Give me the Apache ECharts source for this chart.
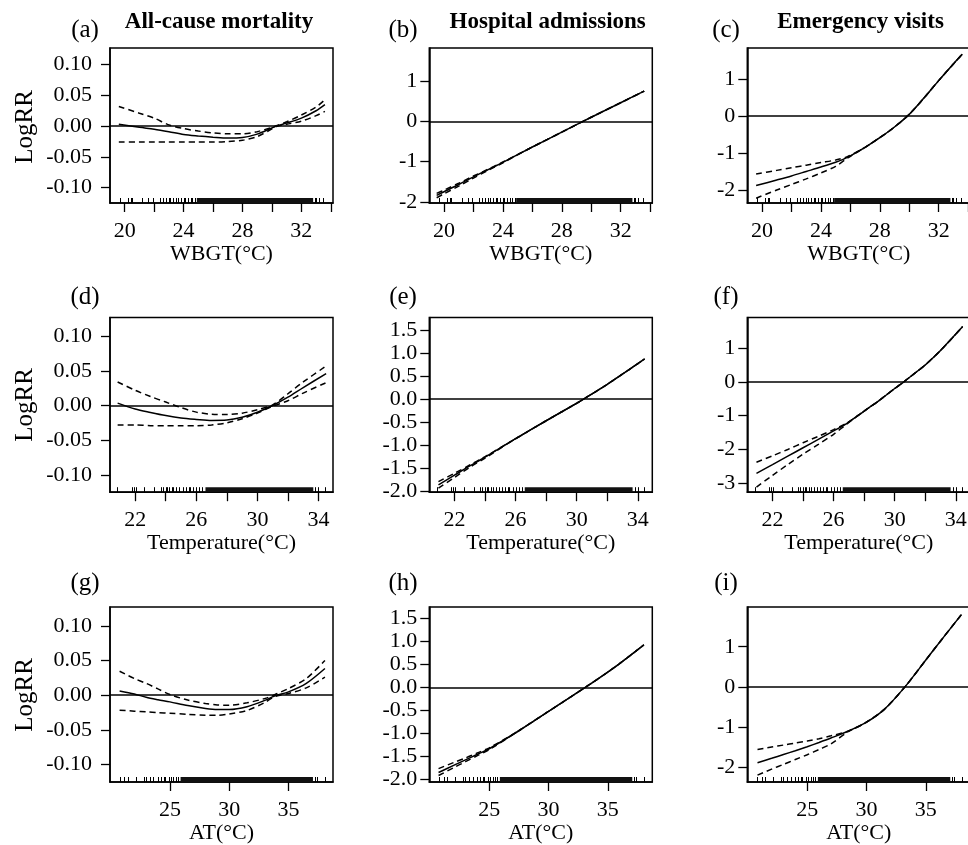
<!DOCTYPE html>
<html><head><meta charset="utf-8">
<script src="https://cdn.jsdelivr.net/npm/echarts@6/dist/echarts.min.js"></script>
<style>html,body{margin:0;padding:0;overflow:hidden;background:#fff}#c{width:980px;height:845px}</style>
</head><body><div id="c"></div><script>
// ---------- DATA ----------
const columnTitles = ['All-cause mortality', 'Hospital admissions', 'Emergency visits'];
const panelLetters = ['(a)','(b)','(c)','(d)','(e)','(f)','(g)','(h)','(i)'];
const rowXNames = ['WBGT(°C)', 'Temperature(°C)', 'AT(°C)'];
const yName = 'LogRR';

// x tick marks / labels per row
const wbgtTicks = [20,22,24,26,28,30,32,34];
const wbgtLabels = [20,24,28,32];
const tempTicks = [22,24,26,28,30,32,34];
const tempLabels = [22,26,30,34];
const atTicks = [25,30,35];
const atLabels = [25,30,35];

// y tick labels
const mortTicks = [-0.10,-0.05,0,0.05,0.10];
const yTicksB = [-2,-1,0,1];
const yTicksC = [-2,-1,0,1];
const yTicksE = [-2,-1.5,-1,-0.5,0,0.5,1,1.5];
const yTicksF = [-3,-2,-1,0,1];
const yTicksH = [-2,-1.5,-1,-0.5,0,0.5,1,1.5];
const yTicksI = [-2,-1,0,1];

// (a) WBGT - mortality
const xA   = [19.6, 21, 22, 23, 24, 25, 26, 27, 28, 29, 30, 30.3, 31, 32, 33, 33.6];
const fitA = [0.003, -0.002, -0.005, -0.009, -0.0135, -0.016, -0.018, -0.0195, -0.0185, -0.013, -0.003, 0, 0.005, 0.013, 0.025, 0.035];
const upA  = [0.032, 0.021, 0.013, 0.002, -0.004, -0.008, -0.011, -0.0125, -0.0125, -0.009, -0.002, 0.0005, 0.007, 0.018, 0.031, 0.043];
const loA  = [-0.026, -0.026, -0.026, -0.026, -0.026, -0.026, -0.026, -0.025, -0.023, -0.017, -0.0045, -0.0005, 0.003, 0.008, 0.017, 0.024];
// (b) WBGT - hospital admissions
const xB   = [19.5, 20, 21, 22, 23, 24, 26, 28, 30, 32, 33.6];
const fitB = [-1.84, -1.75, -1.57, -1.38, -1.20, -1.02, -0.64, -0.27, 0.10, 0.46, 0.75];
const upB  = [-1.79, -1.71, -1.54, -1.36, -1.19, -1.01, -0.64, -0.27, 0.10, 0.46, 0.75];
const loB  = [-1.90, -1.80, -1.61, -1.41, -1.22, -1.03, -0.64, -0.27, 0.10, 0.46, 0.75];
// (c) WBGT - emergency visits
const xC   = [19.6, 21, 22, 23, 24, 25, 25.8, 27, 28, 29, 30, 31, 32, 33, 33.6];
const fitC = [-1.88, -1.73, -1.62, -1.50, -1.38, -1.25, -1.12, -0.85, -0.59, -0.30, 0.04, 0.48, 0.95, 1.40, 1.66];
const upC  = [-1.57, -1.47, -1.40, -1.33, -1.26, -1.19, -1.10, -0.85, -0.59, -0.30, 0.04, 0.48, 0.95, 1.40, 1.66];
const loC  = [-2.22, -2.00, -1.85, -1.70, -1.54, -1.36, -1.14, -0.85, -0.59, -0.30, 0.04, 0.48, 0.95, 1.40, 1.66];
// (d) Temperature - mortality
const xD   = [20.85, 22, 23, 24, 25, 26, 27, 28, 29, 30, 31, 32, 33, 34.5];
const fitD = [0.0035, -0.005, -0.010, -0.0145, -0.018, -0.020, -0.0215, -0.021, -0.017, -0.0097, 0, 0.012, 0.026, 0.046];
const upD  = [0.034, 0.022, 0.013, 0.005, -0.003, -0.0095, -0.0125, -0.013, -0.011, -0.006, 0.001, 0.017, 0.034, 0.057];
const loD  = [-0.028, -0.028, -0.029, -0.029, -0.029, -0.029, -0.028, -0.025, -0.019, -0.011, -0.001, 0.007, 0.018, 0.033];
// (e) Temperature - hospital admissions
const xE   = [20.95, 22, 23, 24, 26, 28, 30, 30.45, 32, 34.45];
const fitE = [-1.86, -1.65, -1.45, -1.26, -0.86, -0.47, -0.09, 0, 0.32, 0.87];
const upE  = [-1.79, -1.61, -1.43, -1.25, -0.86, -0.47, -0.09, 0, 0.32, 0.87];
const loE  = [-1.93, -1.70, -1.48, -1.28, -0.86, -0.47, -0.09, 0, 0.32, 0.87];
// (f) Temperature - emergency visits
const xF   = [20.95, 22, 23, 24, 25, 26, 26.85, 28, 29, 30, 30.6, 31.5, 32, 33, 34.45];
const fitF = [-2.72, -2.46, -2.21, -1.96, -1.71, -1.46, -1.24, -0.87, -0.55, -0.20, 0, 0.32, 0.50, 0.93, 1.64];
const upF  = [-2.39, -2.20, -2.01, -1.81, -1.62, -1.42, -1.23, -0.87, -0.55, -0.20, 0, 0.32, 0.50, 0.93, 1.64];
const loF  = [-3.13, -2.78, -2.46, -2.15, -1.86, -1.56, -1.26, -0.87, -0.55, -0.20, 0, 0.32, 0.50, 0.93, 1.64];
// (g) AT - mortality
const xG   = [20.76, 22, 23, 24, 25, 26.5, 28, 29, 30, 31.5, 33, 33.7, 34, 35, 36.5, 38.07];
const fitG = [0.0062, 0.0018, -0.003, -0.0065, -0.0096, -0.015, -0.019, -0.0205, -0.0205, -0.0165, -0.0075, -0.002, 0, 0.0048, 0.017, 0.0384];
const upG  = [0.0345, 0.024, 0.017, 0.009, 0.001, -0.007, -0.012, -0.014, -0.0145, -0.011, -0.0048, -0.0005, 0.002, 0.0096, 0.024, 0.050];
const loG  = [-0.0216, -0.023, -0.024, -0.025, -0.026, -0.0275, -0.0288, -0.029, -0.027, -0.022, -0.0105, -0.003, -0.0013, 0.0024, 0.0106, 0.026];
// (h) AT - hospital admissions
const xH   = [20.73, 22, 23, 24, 25, 27.5, 30, 33.1, 35.5, 38.04];
const fitH = [-1.845, -1.69, -1.57, -1.45, -1.33, -0.94, -0.52, 0, 0.42, 0.92];
const upH  = [-1.76, -1.63, -1.53, -1.42, -1.31, -0.94, -0.52, 0, 0.42, 0.92];
const loH  = [-1.91, -1.74, -1.61, -1.48, -1.35, -0.94, -0.52, 0, 0.42, 0.92];
// (i) AT - emergency visits
const xI   = [20.81, 22, 23, 24, 25, 26, 27, 28.49, 30, 31.5, 33.24, 35, 36.5, 38.0];
const fitI = [-1.89, -1.78, -1.685, -1.59, -1.49, -1.385, -1.275, -1.10, -0.88, -0.56, 0, 0.67, 1.24, 1.80];
const upI  = [-1.56, -1.50, -1.45, -1.40, -1.35, -1.29, -1.22, -1.10, -0.88, -0.56, 0, 0.67, 1.24, 1.80];
const loI  = [-2.20, -2.05, -1.93, -1.81, -1.69, -1.56, -1.42, -1.11, -0.88, -0.56, 0, 0.67, 1.24, 1.80];

// rug (observed exposure values) per row
const rugWbgt = [19.66, 20.2, 20.4, 20.5, 21.2, 21.6, 21.9, 22.4, 22.6, 22.8, 23.0, 23.1, 23.3, 23.5, 23.6, 23.8, 24.0, 24.1, 24.3, 24.5, 24.6, 24.8, 32.9, 33.0, 33.2, 33.5];
const rugWbgtDense = [24.9, 32.8];
const rugTemp = [20.84, 21.8, 21.9, 22.05, 22.6, 23.25, 23.7, 23.8, 24.0, 24.1, 24.2, 24.4, 24.5, 24.7, 24.9, 25.1, 25.3, 25.5, 25.6, 25.8, 26.0, 26.2, 26.4, 33.8, 34.0, 34.4];
const rugTempDense = [26.6, 33.66];
const rugAt = [20.76, 21.17, 21.46, 22.15, 22.82, 23.0, 23.3, 23.6, 24.0, 24.25, 24.5, 24.6, 24.9, 25.1, 25.3, 25.5, 25.67, 37.2, 37.4, 38.07];
const rugAtDense = [25.9, 37.06];

// ---------- LAYOUT ----------
const FONT = '"Liberation Serif","Times New Roman",serif';
const gridLefts = [110, 429.3, 747.3];
const gridTops = [48, 317.5, 607];
const gridHeights = [155, 174.7, 175];
const gridW = 223;
const xRanges = [[19.0, 34.15], [20.35, 34.95], [19.95, 38.75]];
const yRanges = [[-0.125,0.127],[-2.03,1.82],[-2.35,1.83],[-0.125,0.127],[-2.02,1.77],[-3.28,1.91],[-0.125,0.127],[-2.05,1.74],[-2.37,1.99]];

const xTicksRows = [wbgtTicks, tempTicks, atTicks];
const xLabelsRows = [wbgtLabels, tempLabels, atLabels];
const rugRows = [rugWbgt, rugTemp, rugAt];
const rugDenseRows = [rugWbgtDense, rugTempDense, rugAtDense];
const yTickSets = [mortTicks, yTicksB, yTicksC, mortTicks, yTicksE, yTicksF, mortTicks, yTicksH, yTicksI];
const yFmt = [2,0,0,2,1,0,2,1,0];
const curves = [
  [xA,fitA,upA,loA],[xB,fitB,upB,loB],[xC,fitC,upC,loC],
  [xD,fitD,upD,loD],[xE,fitE,upE,loE],[xF,fitF,upF,loF],
  [xG,fitG,upG,loG],[xH,fitH,upH,loH],[xI,fitI,upI,loI]
];

const grid = [], xAxis = [], yAxis = [], series = [], graphic = [];
for (let i = 0; i < 9; i++) {
  const r = Math.floor(i/3), c = i % 3;
  grid.push({left: gridLefts[c], top: gridTops[r], width: gridW, height: gridHeights[r],
    show: true, borderColor: '#000', borderWidth: 1.5, backgroundColor: 'transparent'});
  xAxis.push({type:'value', gridIndex:i, min:xRanges[r][0], max:xRanges[r][1],
    axisLine:{show:true, onZero:false, lineStyle:{color:'#000', width:1.5}},
    axisTick:{show:true, inside:false, length:9, customValues:xTicksRows[r], lineStyle:{color:'#000', width:1.3}},
    axisLabel:{show:true, customValues:xLabelsRows[r], color:'#000', fontSize:22, fontFamily:FONT, margin:17,
      formatter: v => String(v)},
    splitLine:{show:false},
    name: rowXNames[r], nameLocation:'middle', nameGap:40,
    nameTextStyle:{color:'#000', fontSize:22, fontFamily:FONT}});
  const d = yFmt[i];
  yAxis.push({type:'value', gridIndex:i, min:yRanges[i][0], max:yRanges[i][1],
    axisLine:{show:true, onZero:false, lineStyle:{color:'#000', width:1.5}},
    axisTick:{show:true, inside:false, length:9, customValues:yTickSets[i], lineStyle:{color:'#000', width:1.3}},
    axisLabel:{show:true, customValues:yTickSets[i], color:'#000', fontSize:22, fontFamily:FONT,
      margin: c === 0 ? 18 : 12, formatter: v => Number(v).toFixed(d)},
    splitLine:{show:false}});
  const [xs, fit, up, lo] = curves[i];
  const mk = arr => xs.map((v,k) => [v, arr[k]]);
  series.push({type:'line', xAxisIndex:i, yAxisIndex:i, data:mk(fit), showSymbol:false, smooth:0.3,
    lineStyle:{color:'#000', width:1.5, type:'solid'}, silent:true,
    markLine:{silent:true, symbol:'none', label:{show:false}, animation:false,
      lineStyle:{color:'#000', width:1.5, type:'solid'}, data:[{yAxis:0}]}});
  series.push({type:'line', xAxisIndex:i, yAxisIndex:i, data:mk(up), showSymbol:false, smooth:0.3,
    lineStyle:{color:'#000', width:1.5, type:[6,4]}, silent:true});
  series.push({type:'line', xAxisIndex:i, yAxisIndex:i, data:mk(lo), showSymbol:false, smooth:0.3,
    lineStyle:{color:'#000', width:1.5, type:[6,4]}, silent:true});
  series.push({type:'custom', xAxisIndex:i, yAxisIndex:i, coordinateSystem:'cartesian2d', silent:true,
    data: rugRows[r].map(v => [v, 0]), encode:{x:0, y:1}, clip:false,
    renderItem: (params, api) => {
      const cs = params.coordSys; const p = api.coord([api.value(0), 0]); const yb = cs.y + cs.height;
      return {type:'line', shape:{x1:Math.round(p[0])+0.5, y1:yb, x2:Math.round(p[0])+0.5, y2:yb-5}, style:{stroke:'#000', lineWidth:1}};
    }});
  series.push({type:'custom', xAxisIndex:i, yAxisIndex:i, coordinateSystem:'cartesian2d', silent:true,
    data: [[rugDenseRows[r][0], rugDenseRows[r][1]]], encode:{x:[0,1]}, clip:false,
    renderItem: (params, api) => {
      const cs = params.coordSys; const p1 = api.coord([api.value(0), 0]); const p2 = api.coord([api.value(1), 0]);
      const yb = cs.y + cs.height;
      return {type:'rect', shape:{x:p1[0], y:yb-5, width:p2[0]-p1[0], height:5}, style:{fill:'#111'}};
    }});
  // panel letter
  const letterX = [85, 403, 726][c];
  const letterY = [30, 297, 583][r];
  graphic.push({type:'text', x:letterX, y:letterY, silent:true,
    style:{text:panelLetters[i], fill:'#000', fontSize:25, fontFamily:FONT,
      align:'center', verticalAlign:'middle', textAlign:'center', textVerticalAlign:'middle'}});
}
// column titles
const titleX = [219, 547.7, 860.5];
for (let c = 0; c < 3; c++) {
  graphic.push({type:'text', x:titleX[c], y:22, silent:true,
    style:{text:columnTitles[c], fill:'#000', fontSize:23, fontWeight:'bold', fontFamily:FONT,
      align:'center', verticalAlign:'middle', textAlign:'center', textVerticalAlign:'middle'}});
}
// y names
const yNameY = [127, 405, 695];
for (let r = 0; r < 3; r++) {
  graphic.push({type:'text', x:25, y:yNameY[r], rotation:Math.PI/2, silent:true,
    style:{text:yName, fill:'#000', fontSize:25, fontFamily:FONT,
      align:'center', verticalAlign:'middle', textAlign:'center', textVerticalAlign:'middle'}});
}

const chart = echarts.init(document.getElementById('c'), null, {renderer:'canvas'});
chart.setOption({animation:false, backgroundColor:'#fff', grid, xAxis, yAxis, series, graphic});
</script></body></html>
